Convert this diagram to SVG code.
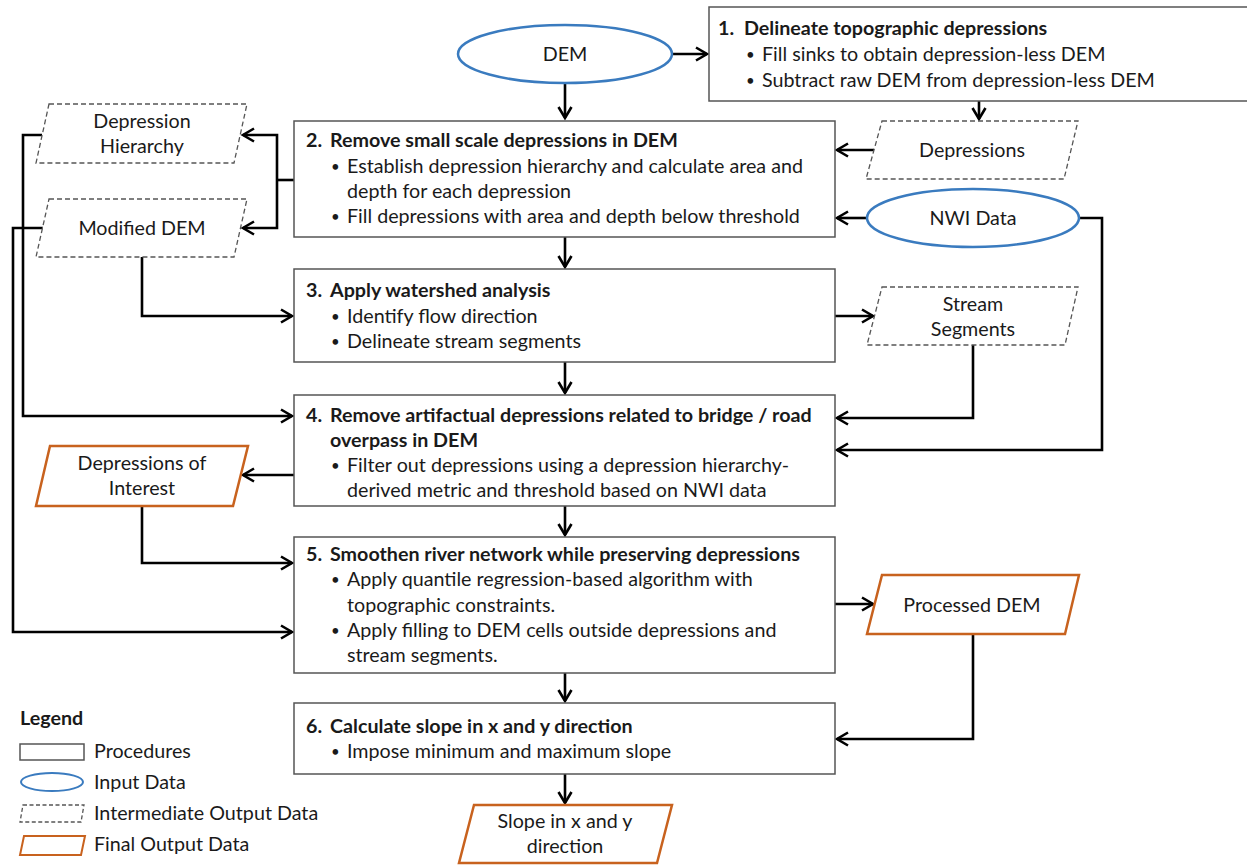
<svg xmlns="http://www.w3.org/2000/svg" width="1247" height="865" viewBox="0 0 1247 865">
<defs>
<style>
text{font-family:Lato,"Liberation Sans",sans-serif;font-size:19.7px;fill:#1a1a1a}
.b{font-weight:bold}
.c{text-anchor:middle}
.d{font-size:15px}
.proc{fill:#fff;stroke:#555;stroke-width:1.5}
.inp{fill:#fff;stroke:#3a7bbf;stroke-width:2.5}
.mid{fill:#fff;stroke:#555;stroke-width:1.3;stroke-dasharray:5 3}
.fin{fill:#fff;stroke:#c8621e;stroke-width:2.5}
.con{fill:none;stroke:#000;stroke-width:2.6;marker-end:url(#arr)}
.line{fill:none;stroke:#000;stroke-width:2.6}
</style>
<marker id="arr" markerUnits="userSpaceOnUse" markerWidth="18" markerHeight="18" viewBox="-14 -9 18 18" refX="0" refY="0" orient="auto">
<path d="M-11,-6.5 L0,0 L-11,6.5" fill="none" stroke="#000" stroke-width="2.6"/>
</marker>
</defs>
<rect width="1247" height="865" fill="#fff"/>

<g id="connectors">
<path class="con" d="M672,54 H707"/>
<path class="con" d="M565,83 V118"/>
<path class="con" d="M979,101 V119"/>
<path class="con" d="M874,150 H837"/>
<path class="con" d="M867,218 H837"/>
<path class="con" d="M1079,218 H1102 V450 H837"/>
<path class="line" d="M294,180 H277"/>
<path class="con" d="M277,180 V135 H243"/>
<path class="con" d="M277,180 V228 H243"/>
<path class="con" d="M42,135 H23 V416 H292"/>
<path class="con" d="M43,228 H13 V632 H292"/>
<path class="con" d="M142,257 V316 H292"/>
<path class="con" d="M565,237 V267"/>
<path class="con" d="M835,316 H873"/>
<path class="con" d="M973,345 V418 H837"/>
<path class="con" d="M565,362 V393"/>
<path class="con" d="M294,475 H243"/>
<path class="con" d="M142,506 V563 H292"/>
<path class="con" d="M565,506 V535"/>
<path class="con" d="M835,604 H873"/>
<path class="con" d="M973,634 V739 H837"/>
<path class="con" d="M565,673 V701"/>
<path class="con" d="M565,774 V803"/>
</g>

<g id="dem">
<ellipse class="inp" cx="565" cy="54" rx="107" ry="29"/>
<text class="c" x="565" y="61">DEM</text>
</g>

<g id="step1">
<rect class="proc" x="709" y="7" width="540" height="94"/>
<text class="b" x="718" y="35">1.</text>
<text class="b" x="744" y="35">Delineate topographic depressions</text>
<text class="d" x="746" y="60">•</text><text x="762" y="61">Fill sinks to obtain depression-less DEM</text>
<text class="d" x="746" y="86">•</text><text x="762" y="87">Subtract raw DEM from depression-less DEM</text>
</g>

<g id="step2">
<rect class="proc" x="294" y="121" width="541" height="116"/>
<text class="b" x="306" y="147">2.</text>
<text class="b" x="330" y="147">Remove small scale depressions in DEM</text>
<text class="d" x="331" y="172">•</text><text x="347" y="173">Establish depression hierarchy and calculate area and</text>
<text x="347" y="198">depth for each depression</text>
<text class="d" x="331" y="222">•</text><text x="347" y="223">Fill depressions with area and depth below threshold</text>
</g>

<g id="depressions">
<polygon class="mid" points="882,121 1078,121 1064,179 866,179"/>
<text class="c" x="972" y="157">Depressions</text>
</g>

<g id="nwi">
<ellipse class="inp" cx="973" cy="218" rx="106" ry="29"/>
<text class="c" x="973" y="225">NWI Data</text>
</g>

<g id="depression-hierarchy">
<polygon class="mid" points="49,104 247,104 234,163 36,163"/>
<text class="c" x="142" y="128">Depression</text>
<text class="c" x="142" y="153">Hierarchy</text>
</g>

<g id="modified-dem">
<polygon class="mid" points="49,199 247,199 234,257 36,257"/>
<text class="c" x="142" y="235">Modified DEM</text>
</g>

<g id="step3">
<rect class="proc" x="294" y="269" width="541" height="93"/>
<text class="b" x="306" y="297">3.</text>
<text class="b" x="330" y="297">Apply watershed analysis</text>
<text class="d" x="331" y="322">•</text><text x="347" y="323">Identify flow direction</text>
<text class="d" x="331" y="347">•</text><text x="347" y="348">Delineate stream segments</text>
</g>

<g id="stream-segments">
<polygon class="mid" points="882,287 1078,287 1065,345 867,345"/>
<text class="c" x="973" y="311">Stream</text>
<text class="c" x="973" y="336">Segments</text>
</g>

<g id="step4">
<rect class="proc" x="294" y="395" width="541" height="111"/>
<text class="b" x="306" y="422">4.</text>
<text class="b" x="330" y="422">Remove artifactual depressions related to bridge / road</text>
<text class="b" x="330" y="447">overpass in DEM</text>
<text class="d" x="331" y="471">•</text><text x="347" y="472">Filter out depressions using a depression hierarchy-</text>
<text x="347" y="497">derived metric and threshold based on NWI data</text>
</g>

<g id="depressions-of-interest">
<polygon class="fin" points="50,446 248,446 233,506 36,506"/>
<text class="c" x="142" y="470">Depressions of</text>
<text class="c" x="142" y="495">Interest</text>
</g>

<g id="step5">
<rect class="proc" x="294" y="537" width="541" height="136"/>
<text class="b" x="306" y="561">5.</text>
<text class="b" x="330" y="561">Smoothen river network while preserving depressions</text>
<text class="d" x="331" y="585">•</text><text x="347" y="586">Apply quantile regression-based algorithm with</text>
<text x="347" y="612">topographic constraints.</text>
<text class="d" x="331" y="636">•</text><text x="347" y="637">Apply filling to DEM cells outside depressions and</text>
<text x="347" y="662">stream segments.</text>
</g>

<g id="processed-dem">
<polygon class="fin" points="882,575 1079,575 1065,634 867,634"/>
<text class="c" x="972" y="612">Processed DEM</text>
</g>

<g id="step6">
<rect class="proc" x="294" y="703" width="541" height="71"/>
<text class="b" x="306" y="733">6.</text>
<text class="b" x="330" y="733">Calculate slope in x and y direction</text>
<text class="d" x="331" y="757">•</text><text x="347" y="758">Impose minimum and maximum slope</text>
</g>

<g id="slope">
<polygon class="fin" points="474,805 672,805 657,863 459,863"/>
<text class="c" x="565" y="828">Slope in x and y</text>
<text class="c" x="565" y="853">direction</text>
</g>

<g id="legend">
<text class="b" x="20" y="725">Legend</text>
<rect class="proc" x="20" y="744" width="64" height="16"/>
<text x="94" y="758">Procedures</text>
<ellipse class="inp" cx="52" cy="782" rx="31" ry="9" style="stroke-width:2"/>
<text x="94" y="789">Input Data</text>
<polygon class="mid" points="23,805 84,805 81,822 20,822" style="stroke-dasharray:4 2.5"/>
<text x="94" y="820">Intermediate Output Data</text>
<polygon class="fin" points="24,836 85,836 81,855 20,855" style="stroke-width:2"/>
<text x="94" y="851">Final Output Data</text>
</g>
</svg>
